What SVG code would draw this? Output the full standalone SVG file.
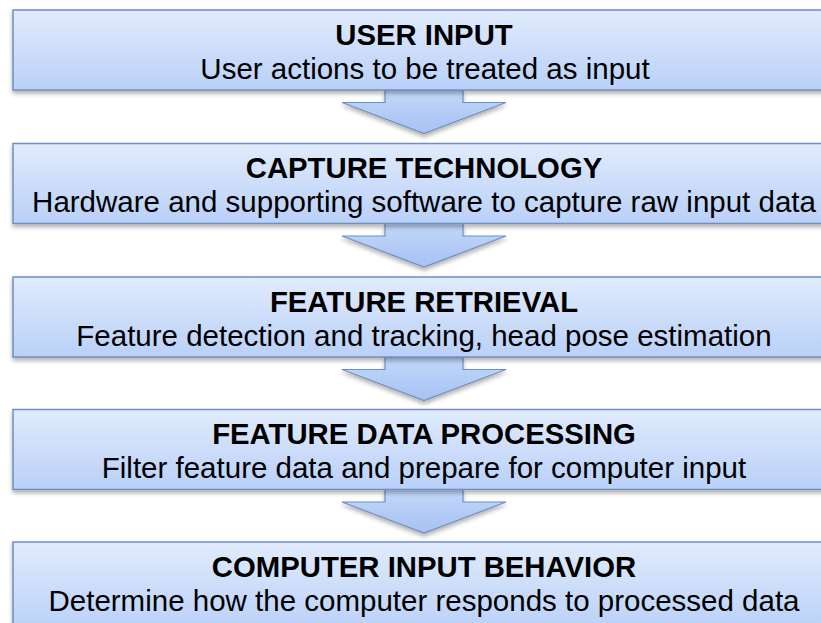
<svg xmlns="http://www.w3.org/2000/svg" width="821" height="623" viewBox="0 0 821 623">
  <defs>
    <linearGradient id="boxGrad" x1="0" y1="0" x2="0" y2="1">
      <stop offset="0" stop-color="#e1ebfc"/>
      <stop offset="1" stop-color="#b9d0f8"/>
    </linearGradient>
    <linearGradient id="arrowGrad" x1="0" y1="0" x2="0" y2="1">
      <stop offset="0" stop-color="#c3d7f9"/>
      <stop offset="1" stop-color="#a6c2f3"/>
    </linearGradient>
    <filter id="shadow" x="-5%" y="-20%" width="110%" height="150%">
      <feDropShadow dx="0" dy="3" stdDeviation="2" flood-color="#000" flood-opacity="0.3"/>
    </filter>
    <path id="arrowShape" d="M-39,0 L-39,12.5 L-82,12.5 L0,43.5 L82,12.5 L39,12.5 L39,0 Z"/>
  </defs>
  <style>
    .box { fill: url(#boxGrad); stroke: #6e8fc2; stroke-width: 1.5; filter: url(#shadow); }
    .arrow { fill: url(#arrowGrad); stroke: #6e8fc2; stroke-width: 1.2; filter: url(#shadow); }
    .title { font-family: "Liberation Sans", Arial, sans-serif; font-weight: bold; font-size: 29.3px; fill: #000; text-anchor: middle; }
    .sub { font-family: "Liberation Sans", Arial, sans-serif; font-size: 29.5px; fill: #000; text-anchor: middle; }
  </style>

  <g id="connectors">
    <use href="#arrowShape" class="arrow" transform="translate(424,90)"/>
    <use href="#arrowShape" class="arrow" transform="translate(424,223.5)"/>
    <use href="#arrowShape" class="arrow" transform="translate(424,357)"/>
    <use href="#arrowShape" class="arrow" transform="translate(424,489.5)"/>
  </g>

  <g id="user-input">
    <rect class="box" x="13" y="10" width="825" height="80"/>
    <text class="title" x="424" y="44.5">USER INPUT</text>
    <text class="sub" x="425" y="78.5">User actions to be treated as input</text>
  </g>

  <g id="capture-technology">
    <rect class="box" x="13" y="143.5" width="825" height="80"/>
    <text class="title" x="424" y="178">CAPTURE TECHNOLOGY</text>
    <text class="sub" x="424" y="212">Hardware and supporting software to capture raw input data</text>
  </g>

  <g id="feature-retrieval">
    <rect class="box" x="13" y="277" width="825" height="80"/>
    <text class="title" x="424" y="311.5">FEATURE RETRIEVAL</text>
    <text class="sub" x="424" y="345.5">Feature detection and tracking, head pose estimation</text>
  </g>

  <g id="feature-data-processing">
    <rect class="box" x="13" y="409.5" width="825" height="80"/>
    <text class="title" x="424" y="444">FEATURE DATA PROCESSING</text>
    <text class="sub" x="424" y="478">Filter feature data and prepare for computer input</text>
  </g>

  <g id="computer-input-behavior">
    <rect class="box" x="13" y="542" width="825" height="90"/>
    <text class="title" x="424" y="577">COMPUTER INPUT BEHAVIOR</text>
    <text class="sub" x="424" y="611">Determine how the computer responds to processed data</text>
  </g>
</svg>
